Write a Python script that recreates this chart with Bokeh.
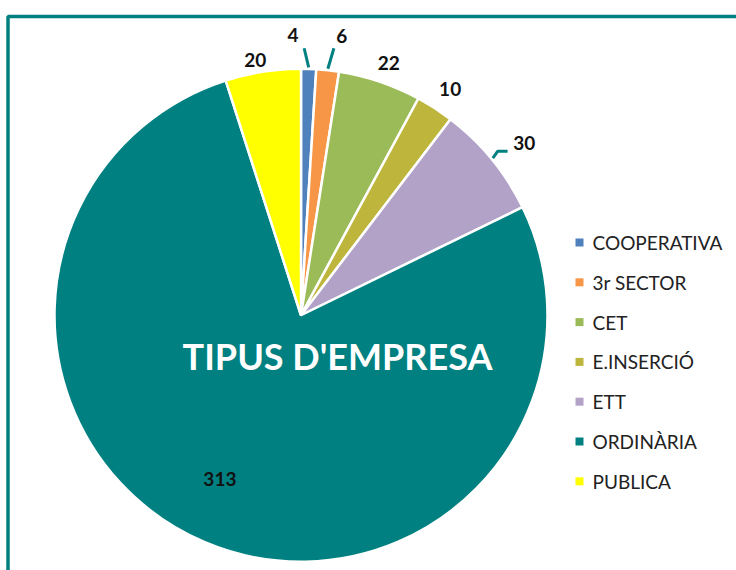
import numpy as np
from bokeh.plotting import figure
from bokeh.models import ColumnDataSource, Range1d
from bokeh.core.properties import value
from bokeh.embed import file_html
from bokeh.resources import INLINE

# ---- data ----
categories = ["COOPERATIVA", "3r SECTOR", "CET", "E.INSERCIÓ", "ETT", "ORDINÀRIA", "PUBLICA"]
values = [4, 6, 22, 10, 30, 313, 20]
colors = ["#4F81BD", "#F79646", "#9BBB59", "#BEB63C", "#B2A2C7", "#008080", "#FFFF00"]
title = "TIPUS D'EMPRESA"

# ---- layout (pixel-based data space) ----
W, H = 736, 570
cx, cy, R = 300.5, 255.25, 246.5
label_r = [280, 282, 267, 271, 282, 183, 259]
label_da = [-3.4, 2.1, 0.5, 0.5, 1.7, 3.2, -1.3]
leader_idx = [0, 1, 4]
leader_end = {0: (267, -1.1), 1: (269, 0.8), 4: (256, -0.5)}
leader_tail = {4: 10}

vals = np.array(values, dtype=float)
frac = vals / vals.sum()
cum = np.concatenate([[0], np.cumsum(frac)])
start_deg = cum[:-1] * 360  # clockwise from top
end_deg = cum[1:] * 360
mid_deg = (start_deg + end_deg) / 2

def to_bokeh(deg_cw_top):
    return np.pi / 2 - np.radians(deg_cw_top)

def polar(r, deg_cw_top):
    a = np.radians(deg_cw_top)
    return cx + r * np.sin(a), cy + r * np.cos(a)

p = figure(width=W, height=H, x_range=Range1d(0, W), y_range=Range1d(0, H),
           output_backend="svg", toolbar_location=None, min_border=0,
           x_axis_location=None, y_axis_location=None)
p.grid.visible = False
p.outline_line_color = None
p.background_fill_color = "white"
p.border_fill_color = "white"

# frame
p.quad(left=[7.5], right=[780], top=[554], bottom=[-30], fill_color=None,
       line_color="#008080", line_width=3.5)

src = ColumnDataSource(dict(
    start=[to_bokeh(s) for s in start_deg],
    end=[to_bokeh(e) for e in end_deg],
    color=colors, cat=categories))
p.wedge(x=cx, y=cy, radius=R, start_angle="start", end_angle="end",
        direction="clock", fill_color="color", line_color="white",
        line_width=2.5, source=src)

# leader lines
xs, ys = [], []
for i in leader_idx:
    x0, y0 = polar(R + 1.5, mid_deg[i])
    r1, da = leader_end[i]
    x1, y1 = polar(r1, mid_deg[i] + da)
    lx, ly = [x0, x1], [y0, y1]
    if i in leader_tail:
        lx.append(x1 + leader_tail[i])
        ly.append(y1)
    xs.append(lx)
    ys.append(ly)
p.multi_line(xs=xs, ys=ys, line_color="#008080", line_width=3)

# value labels
lab_x, lab_y = [], []
for i in range(len(values)):
    x, y = polar(label_r[i], mid_deg[i] + label_da[i])
    lab_x.append(x)
    lab_y.append(y)
p.text(x=lab_x, y=lab_y, text=[str(v) for v in values],
       text_font=value("Lato"), text_font_style="bold", text_font_size="19px",
       text_color="#111111", text_align="center", text_baseline="middle")

# title
p.text(x=[337], y=[215], text=[title], text_font=value("Lato"),
       text_font_style="bold", text_font_size="36px", text_color="white",
       text_align="center", text_baseline="middle")

# legend
n = len(categories)
leg_y = [328 - 39.8 * i for i in range(n)]
p.scatter(x=[579] * n, y=leg_y, marker="square", size=8,
          fill_color=colors, line_color=None)
p.text(x=[592] * n, y=leg_y, text=categories, text_font=value("Lato"),
       text_font_size="19px", text_color="#222222", text_align="left",
       text_baseline="middle")

open("out.html", "w").write(file_html(p, INLINE))
